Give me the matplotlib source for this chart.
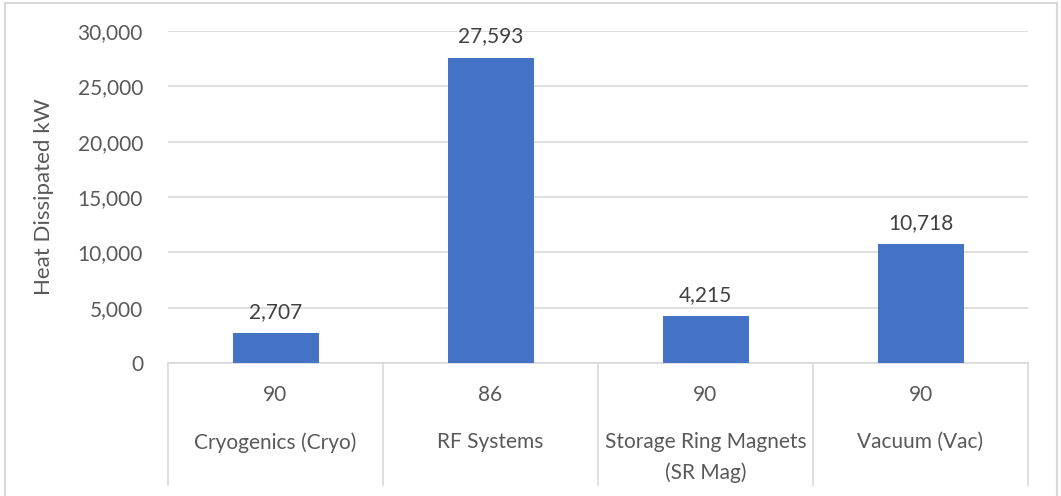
import matplotlib.pyplot as plt
import matplotlib.transforms as mtransforms
from matplotlib.patches import Rectangle

# heat load per system, with efficiency (%) as the inner category row
systems = ['Cryogenics (Cryo)', 'RF Systems', 'Storage Ring Magnets\n(SR Mag)', 'Vacuum (Vac)']
efficiency = ['90', '86', '90', '90']
heat_kw = [2707, 27593, 4215, 10718]
yticks = [0, 5000, 10000, 15000, 20000, 25000, 30000]

W, H = 1061, 496
txt = '#595959'
grid = '#d9d9d9'
plt.rcParams['font.family'] = ['Lato', 'DejaVu Sans']

fig = plt.figure(figsize=(W / 100, H / 100), dpi=100)
ax = fig.add_axes([168 / W, 1 - 363 / H, (1028 - 168) / W, (363 - 31) / H])

x = list(range(len(heat_kw)))
ax.bar(x, heat_kw, width=0.4, color='#4472C4', zorder=3)
for xi, v in zip(x, heat_kw):
    ax.annotate(f'{v:,}', (xi, v), xytext=(0, 8), textcoords='offset points',
                ha='center', va='bottom', fontsize=15, color='#404040')

ax.set_xlim(-0.5, len(heat_kw) - 0.5)
ax.set_ylim(0, 30000)
ax.set_yticks(yticks)
ax.set_yticklabels([f'{t:,}' for t in yticks])
ax.yaxis.grid(True, color=grid, linewidth=1.2, zorder=0)
ax.tick_params(axis='y', length=0, pad=18, labelsize=15, labelcolor=txt)
ax.set_xticks([])
for s in ['top', 'right', 'left']:
    ax.spines[s].set_visible(False)
ax.spines['bottom'].set_color(grid)
ax.spines['bottom'].set_linewidth(1.2)
ax.set_ylabel('Heat Dissipated kW', fontsize=16, color=txt, labelpad=17)

# two-level category table under the axis
tr = mtransforms.blended_transform_factory(ax.transData, fig.transFigure)
for b in [i - 0.5 for i in range(len(heat_kw) + 1)]:
    ax.plot([b, b], [1 - 363 / H, 1 - 485 / H], transform=tr, color=grid,
            linewidth=1.2, clip_on=False)
for xi, e, name in zip(x, efficiency, systems):
    ax.text(xi, 1 - 395 / H, e, transform=tr, ha='center', va='center',
            fontsize=15, color=txt)
    ax.text(xi, 1 - 432 / H, name, transform=tr, ha='center', va='top',
            fontsize=15, color=txt, linespacing=1.6)

fig.patches.append(Rectangle((5 / W, -0.1), (1057 - 5) / W, 1.1 - 2.5 / H,
                             transform=fig.transFigure, fill=False,
                             edgecolor=grid, linewidth=1.5))

fig.savefig('out.png', dpi=100)
